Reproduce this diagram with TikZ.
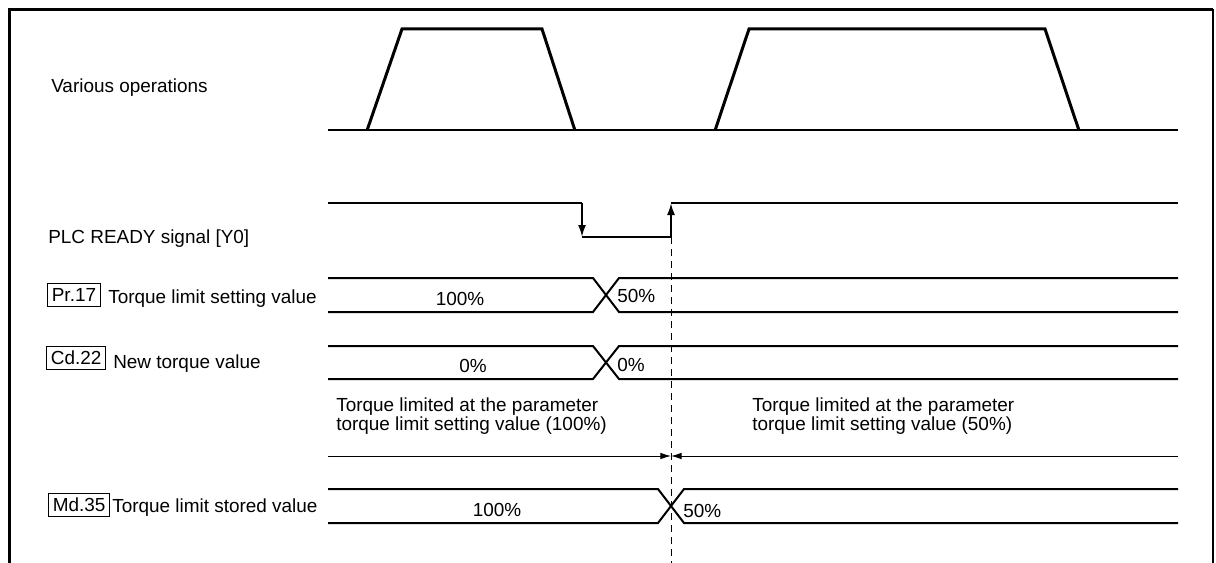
\documentclass[tikz,border=0pt]{standalone}
\usepackage{fontspec}
\setmainfont{Liberation Sans}
\usetikzlibrary{arrows.meta,positioning}

\begin{document}
\begin{tikzpicture}[x=0.75pt,y=-0.75pt,
    every node/.style={font=\fontsize{14.2}{14}\selectfont},
    lbl/.style={inner sep=0pt},
    tag/.style={draw,line width=0.9pt,inner xsep=3.2pt,inner ysep=3.4pt,text height=10pt,text depth=0pt},
    wave/.style={line width=2.25pt,line join=miter},
    sig/.style={line width=1.5pt},
    flank/.style={sig,-{Latex[length=9pt,width=6pt]}},
    span/.style={line width=0.75pt,-{Latex[length=8pt,width=5pt]}}]
  \useasboundingbox (0,0) rectangle (1216,563);
  % frame
  \draw[line width=2.8pt] (9.5,563) -- (9.5,9.5) -- (1213,9.5);
  \draw[line width=1.3pt] (1213,9.5) -- (1213,563);

  % various operations
  \node[lbl,anchor=base west] (ops) at (51,93) {Various operations};
  \draw[sig] (328,130.5) -- (1178,130.5);
  \draw[wave] (367,130.5) -- (402,29) -- (542,29) -- (575,130.5);
  \draw[wave] (715,130.5) -- (749,29) -- (1045,29) -- (1079,130.5);

  % PLC READY signal
  \node[lbl,anchor=base west] (plc) at (48,243) {PLC READY signal [Y0]};
  \coordinate (fall) at (582,203);
  \coordinate (low) at (582,237);
  \coordinate (up) at (671,237);
  \coordinate (rise) at (671,203);
  \draw[sig] (328,203) -- (fall);
  \draw[flank] (fall) -- (low);
  \draw[sig] (low) -- (up);
  \draw[flank] (up) -- (rise);
  \draw[sig] (rise) -- (1178,203);

  % data buses
  \foreach \t/\b/\l/\r in {278/312/593/619, 346/379/593/619, 489/523/658/684}{
    \draw[sig] (328,\t) -- (\l,\t) -- (\r,\b) -- (1178,\b);
    \draw[sig] (328,\b) -- (\l,\b) -- (\r,\t) -- (1178,\t);
  }

  \node[tag,anchor=west] (pr) at (47,295) {Pr.17};
  \node[lbl,anchor=base west] (prtxt) at (108,303) {Torque limit setting value};
  \node[lbl,anchor=base] (pra) at (460,305) {100\%};
  \node[lbl,anchor=base west] (prb) at (617,302) {50\%};

  \node[tag,anchor=west] (cd) at (46,358) {Cd.22};
  \node[lbl,anchor=base west] (cdtxt) at (113,368) {New torque value};
  \node[lbl,anchor=base] (cda) at (473,372) {0\%};
  \node[lbl,anchor=base west] (cdb) at (617,371) {0\%};

  \node[tag,anchor=west] (md) at (48,505) {Md.35};
  \node[lbl,anchor=base west] (mdtxt) at (112,512) {Torque limit stored value};
  \node[lbl,anchor=base] (mda) at (497,516) {100\%};
  \node[lbl,anchor=base west] (mdb) at (683,517) {50\%};

  % limit periods
  \node[lbl,anchor=north west,align=left] (limA) at (336,398)
    {Torque limited at the parameter\\torque limit setting value (100\%)};
  \node[lbl,anchor=north west,align=left] (limB) at (752,398)
    {Torque limited at the parameter\\torque limit setting value (50\%)};
  \coordinate (mid) at (671,456);
  \draw[span] (328,456) -- (mid);
  \draw[span] (1178,456) -- (mid);

  % change timing
  \draw[line width=0.75pt,dash pattern=on 5.25pt off 3.75pt] (up) -- (671,563);
\end{tikzpicture}
\end{document}
